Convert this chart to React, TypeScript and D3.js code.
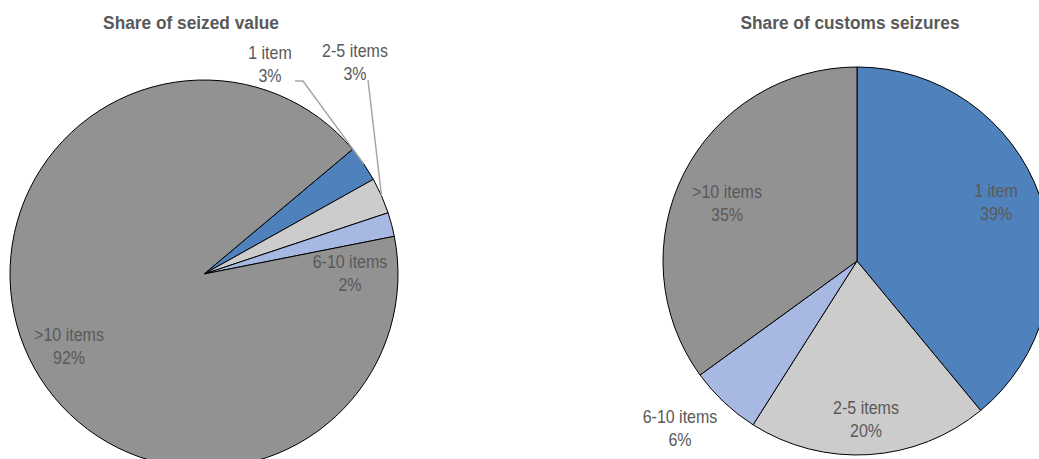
import React from "react";
import * as d3 from "d3";

// Categories shared by both pies
const categories = ["1 item", "2-5 items", "6-10 items", ">10 items"];

// Share of seized value (%)
const valueShares = [3, 3, 2, 92];
// Share of customs seizures (%)
const seizureShares = [39, 20, 6, 35];

const titles = ["Share of seized value", "Share of customs seizures"];

const colors = ["#4F81BD", "#CCCCCC", "#A7B9E3", "#929292"];

const W = 1039;
const H = 459;
const FONT = "'Liberation Sans', Arial, sans-serif";
const TEXT = "#595959";
// Condensed look for the label face
const SQUEEZE_TITLE = 0.91;
const SQUEEZE_LABEL = 0.89;

type LabelPos = { x: number; y: number; leader?: [number, number][] };

type PieSpec = {
  title: string;
  titleX: number;
  cx: number;
  cy: number;
  r: number;
  startDeg: number;
  values: number[];
  labels: LabelPos[];
};

const pies: PieSpec[] = [
  {
    title: titles[0],
    titleX: 191,
    cx: 204,
    cy: 274,
    r: 194,
    startDeg: 50,
    values: valueShares,
    labels: [
      { x: 270, y: 59, leader: [[295, 81], [303, 81]] },
      { x: 355, y: 57, leader: [[368, 80]] },
      { x: 350, y: 268 },
      { x: 69, y: 341 },
    ],
  },
  {
    title: titles[1],
    titleX: 850,
    cx: 857,
    cy: 261,
    r: 194,
    startDeg: 0,
    values: seizureShares,
    labels: [
      { x: 996, y: 197 },
      { x: 866, y: 414 },
      { x: 680, y: 423 },
      { x: 727, y: 198 },
    ],
  },
];

function Pie({ spec }: { spec: PieSpec }) {
  const start = (spec.startDeg * Math.PI) / 180;
  const arcs = d3
    .pie<number>()
    .sort(null)
    .value((d) => d)
    .startAngle(start)
    .endAngle(start + 2 * Math.PI)(spec.values);
  const arc = d3.arc<d3.PieArcDatum<number>>().innerRadius(0).outerRadius(spec.r);
  const rim = d3.arc<d3.PieArcDatum<number>>().innerRadius(spec.r).outerRadius(spec.r);

  return (
    <g>
      <text
        transform={`translate(${spec.titleX},29) scale(${SQUEEZE_TITLE},1)`}
        textAnchor="middle"
        fontFamily={FONT}
        fontWeight="bold"
        fontSize={19}
        fill={TEXT}
      >
        {spec.title}
      </text>
      <g transform={`translate(${spec.cx},${spec.cy})`}>
        {arcs.map((a, i) => (
          <path key={i} d={arc(a) || ""} fill={colors[i]} stroke="#000" strokeWidth={1} />
        ))}
      </g>
      {arcs.map((a, i) => {
        const lab = spec.labels[i];
        if (!lab.leader) return null;
        const [ex, ey] = rim.centroid(a);
        const pts = [...lab.leader, [spec.cx + ex, spec.cy + ey]];
        return (
          <polyline
            key={"l" + i}
            points={pts.map((p) => p.join(",")).join(" ")}
            fill="none"
            stroke="#A6A6A6"
            strokeWidth={1.5}
          />
        );
      })}
      {arcs.map((a, i) => {
        const lab = spec.labels[i];
        return (
          <text
            key={"t" + i}
            transform={`translate(${lab.x},${lab.y}) scale(${SQUEEZE_LABEL},1)`}
            textAnchor="middle"
            fontFamily={FONT}
            fontSize={18}
            fill={TEXT}
          >
            <tspan x={0}>{categories[i]}</tspan>
            <tspan x={0} dy={23}>
              {`${a.data}%`}
            </tspan>
          </text>
        );
      })}
    </g>
  );
}

export default function App() {
  return (
    <svg
      width={W}
      height={H}
      style={{ position: "absolute", left: 0, top: 0, background: "#fff", overflow: "hidden" }}
    >
      {pies.map((p, i) => (
        <Pie key={i} spec={p} />
      ))}
    </svg>
  );
}
